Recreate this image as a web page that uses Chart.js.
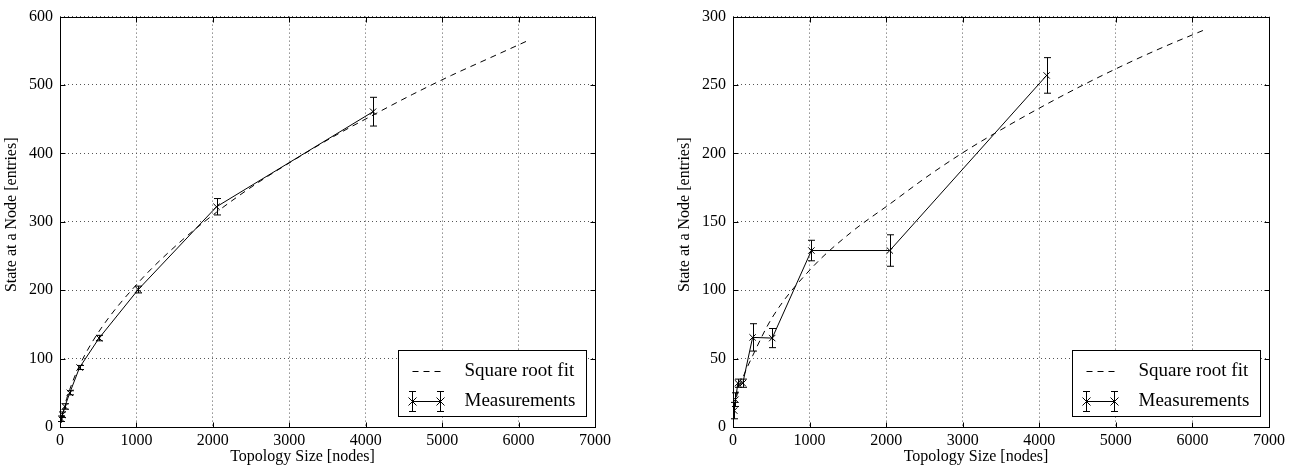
<!DOCTYPE html>
<html>
<head>
<meta charset="utf-8">
<script src="https://cdn.jsdelivr.net/npm/chart.js@4.4.0/dist/chart.umd.min.js"></script>
<style>
  body { margin: 0; background: #fff; }
  .panel { position: absolute; top: 0; width: 654px; height: 468px; }
</style>
</head>
<body>
<div class="panel" style="left:0"><canvas id="leftChart" width="654" height="468"></canvas></div>
<div class="panel" style="left:654px"><canvas id="rightChart" width="654" height="468"></canvas></div>
<script>
// topology sizes where measurements were taken
const sizes = [16, 32, 64, 128, 256, 512, 1024, 2048, 4096];
const fitSizes = [16, 64, 128, 256, 512, 1024, 1536, 2048, 2560, 3072, 3584, 4096, 4608, 5120, 5632, 6144];

// left panel
const leftMeasured = [12, 18, 30, 50, 87, 130, 201, 322, 461];
const leftError = [4, 4, 4, 3, 3, 4, 5, 12, 21];
const leftFit = [6, 32, 55, 90, 140, 211, 267, 314, 355, 391, 425, 456, 486, 514, 540, 566];

// right panel
const rightMeasured = [12, 20, 32, 32, 65.5, 65, 129, 129, 257];
const rightError = [6, 5, 3, 3, 10, 7, 7.5, 11.5, 13];
const rightFit = [14, 26, 36, 52, 80, 116, 142, 163, 184, 203, 220, 236, 251, 265, 278, 290];

const legendLabels = ['Square root fit', 'Measurements'];
const xTitle = 'Topology Size [nodes]';
const yTitle = 'State at a Node [entries]';

const serif = '"Liberation Serif", "DejaVu Serif", serif';

const framePlugin = {
  id: 'frame',
  afterDatasetsDraw(chart, args, opts) {
    const ctx = chart.ctx;
    const xs = chart.scales.x, ys = chart.scales.y;
    ctx.save();
    ctx.strokeStyle = '#000';
    ctx.lineWidth = 1;
    ctx.setLineDash([]);
    // error bars
    opts.values.forEach((v, i) => {
      const px = Math.round(xs.getPixelForValue(sizes[i])) + 0.5;
      const top = ys.getPixelForValue(v + opts.errors[i]);
      const bot = ys.getPixelForValue(v - opts.errors[i]);
      ctx.beginPath();
      ctx.moveTo(px, top); ctx.lineTo(px, bot);
      ctx.moveTo(px - 3.5, top); ctx.lineTo(px + 3.5, top);
      ctx.moveTo(px - 3.5, bot); ctx.lineTo(px + 3.5, bot);
      ctx.stroke();
    });
    ctx.restore();
  },
  afterDraw(chart) {
    const ctx = chart.ctx;
    const a = chart.chartArea;
    const xs = chart.scales.x, ys = chart.scales.y;
    ctx.save();
    ctx.strokeStyle = '#000';
    ctx.lineWidth = 1;
    ctx.setLineDash([]);
    const L = Math.round(a.left) + 0.5, R = Math.round(a.right) + 0.5;
    const T = Math.round(a.top) + 0.5, B = Math.round(a.bottom) + 0.5;
    ctx.strokeRect(L, T, R - L, B - T);
    // inward ticks on all four sides
    ctx.beginPath();
    xs.ticks.forEach(t => {
      const px = Math.round(xs.getPixelForValue(t.value)) + 0.5;
      ctx.moveTo(px, B); ctx.lineTo(px, B - 5);
      ctx.moveTo(px, T); ctx.lineTo(px, T + 5);
    });
    ys.ticks.forEach(t => {
      const py = Math.round(ys.getPixelForValue(t.value)) + 0.5;
      ctx.moveTo(L, py); ctx.lineTo(L + 5, py);
      ctx.moveTo(R, py); ctx.lineTo(R - 5, py);
    });
    ctx.stroke();

    // axis titles
    ctx.fillStyle = '#000';
    ctx.font = '16px ' + serif;
    ctx.textAlign = 'center';
    ctx.textBaseline = 'middle';
    ctx.fillText(xTitle, (a.left + a.right) / 2 - 25, 457);
    ctx.save();
    ctx.translate(a.left - 48, (a.top + a.bottom) / 2 - 7);
    ctx.rotate(-Math.PI / 2);
    ctx.fillText(yTitle, 0, 0);
    ctx.restore();

    // legend box
    const bw = 188, bh = 66;
    const bx = Math.round(a.right - 9 - bw) + 0.5, by = Math.round(a.bottom - 11 - bh) + 0.5;
    ctx.fillStyle = '#fff';
    ctx.fillRect(bx, by, bw, bh);
    ctx.strokeRect(bx, by, bw, bh);
    const row1 = by + 21, row2 = by + 51;
    const s0 = bx + 14, s1 = bx + 42;
    ctx.setLineDash([6, 5]);
    ctx.beginPath();
    ctx.moveTo(s0, row1); ctx.lineTo(s1 + 2, row1);
    ctx.stroke();
    ctx.setLineDash([]);
    ctx.beginPath();
    ctx.moveTo(s0, row2); ctx.lineTo(s1, row2);
    [s0, s1].forEach(sx => {
      ctx.moveTo(sx, row2 - 10); ctx.lineTo(sx, row2 + 10);
      ctx.moveTo(sx - 3.5, row2 - 10); ctx.lineTo(sx + 3.5, row2 - 10);
      ctx.moveTo(sx - 3.5, row2 + 10); ctx.lineTo(sx + 3.5, row2 + 10);
      ctx.moveTo(sx - 4, row2 - 4); ctx.lineTo(sx + 4, row2 + 4);
      ctx.moveTo(sx - 4, row2 + 4); ctx.lineTo(sx + 4, row2 - 4);
    });
    ctx.stroke();
    ctx.fillStyle = '#000';
    ctx.font = '19px ' + serif;
    ctx.textBaseline = 'middle';
    ctx.textAlign = 'left';
    ctx.fillText(legendLabels[0], bx + 66, row1);
    ctx.fillText(legendLabels[1], bx + 66, row2);
    ctx.restore();
  }
};

function makeChart(id, measured, errors, fit, yMax, yStep, padLeft, padRight) {
  return new Chart(document.getElementById(id), {
    type: 'line',
    data: {
      datasets: [
        {
          label: legendLabels[0],
          data: fitSizes.map((s, i) => ({ x: s, y: fit[i] })),
          borderColor: '#000',
          borderWidth: 1,
          borderDash: [6, 5],
          pointRadius: 0,
          cubicInterpolationMode: 'monotone',
          fill: false
        },
        {
          label: legendLabels[1],
          data: sizes.map((s, i) => ({ x: s, y: measured[i] })),
          borderColor: '#000',
          borderWidth: 1,
          pointStyle: 'crossRot',
          pointRadius: 4.5,
          pointBorderColor: '#000',
          pointBorderWidth: 1,
          tension: 0,
          fill: false
        }
      ]
    },
    options: {
      responsive: false,
      animation: false,
      devicePixelRatio: 1,
      layout: { padding: { left: padLeft, right: padRight, top: 12, bottom: 0 } },
      plugins: {
        legend: { display: false },
        tooltip: { enabled: false },
        frame: { values: measured, errors: errors }
      },
      scales: {
        x: {
          type: 'linear',
          min: 0, max: 7000,
          afterFit: s => { s.height = 41; },
          ticks: { stepSize: 1000, color: '#000', padding: 4, maxRotation: 0, callback: v => String(v), font: { family: serif, size: 16 } },
          grid: { color: '#555', lineWidth: 1, drawTicks: false },
          border: { display: false, dash: [1, 3] }
        },
        y: {
          type: 'linear',
          min: 0, max: yMax,
          afterFit: s => { s.width = 60; },
          ticks: { stepSize: yStep, color: '#000', padding: 7, callback: v => String(v), font: { family: serif, size: 16 } },
          grid: { color: '#555', lineWidth: 1, drawTicks: false },
          border: { display: false, dash: [1, 3] }
        }
      }
    },
    plugins: [framePlugin]
  });
}

makeChart('leftChart', leftMeasured, leftError, leftFit, 600, 100, 0, 59);
makeChart('rightChart', rightMeasured, rightError, rightFit, 300, 50, 19, 39);
</script>
</body>
</html>
